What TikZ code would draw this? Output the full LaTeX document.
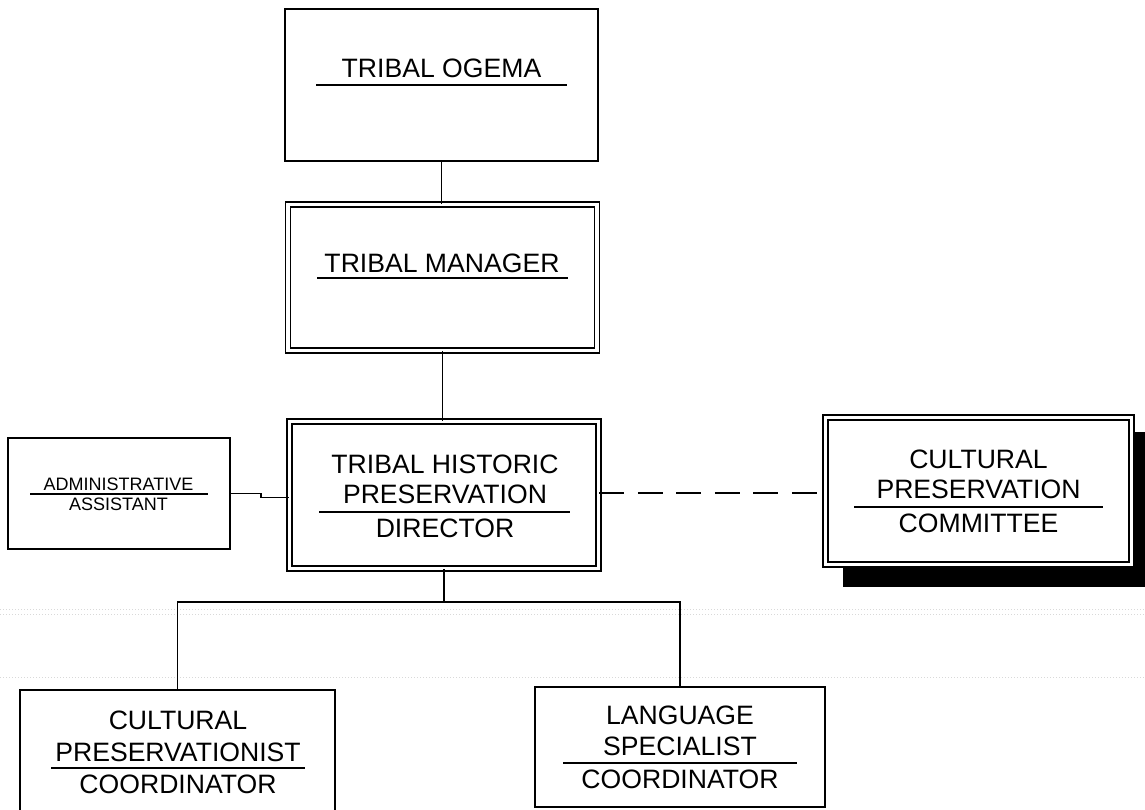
\documentclass[tikz,border=0pt]{standalone}
\usepackage{fontspec}
\setmainfont{Liberation Sans}
\usetikzlibrary{calc}
\begin{document}
\begin{tikzpicture}[x=1pt,y=-1pt,
  box/.style={draw, line width=1.8pt, fill=white, inner sep=0pt},
  dblbox/.style={draw, line width=1.6pt, double=white, double distance=3.2pt, fill=white, inner sep=0pt},
  lbl/.style={font=\fontsize{26.6}{30}\selectfont, anchor=base, inner sep=0pt},
  smalllbl/.style={font=\fontsize{18}{20}\selectfont, anchor=base, inner sep=0pt},
  rulel/.style={line width=1.7pt},
  conn/.style={line width=1.7pt},
  scanline/.style={gray!30, line width=1pt, dotted},
]
\useasboundingbox (0,0) rectangle (1145,809);
% faint scan lines
\draw[scanline] (0,609) -- (1145,609);
\draw[scanline] (0,614) -- (1145,614);
\draw[scanline] (0,677) -- (1145,677);

% shadow of committee box
\fill[black] (843,432) rectangle (1160,587);

% boxes
\node[box, minimum width=313pt, minimum height=152pt] (ogema) at (441.5,85) {};
\node[dblbox, minimum width=309pt, minimum height=146pt] (manager) at (442.5,277.5) {};
\node[dblbox, minimum width=309pt, minimum height=147pt] (director) at (444,495) {};
\node[dblbox, minimum width=306pt, minimum height=147pt] (committee) at (978.5,491) {};
\node[box, minimum width=222pt, minimum height=111pt] (admin) at (119,493.5) {};
\node[box, minimum width=315pt, minimum height=140pt] (cp) at (177.5,760) {};
\node[box, minimum width=290pt, minimum height=120pt] (lang) at (680,747) {};

% texts
\node[lbl] (tOgema) at (441.5,77) {TRIBAL OGEMA};
\draw[rulel] (316,85) -- (567,85);

\node[lbl] (tManager) at (442,272) {TRIBAL MANAGER};
\draw[rulel] (317,278) -- (568,278);

\node[lbl] (tDir1) at (445,473) {TRIBAL HISTORIC};
\node[lbl] (tDir2) at (445,503) {PRESERVATION};
\draw[rulel] (319,512) -- (570,512);
\node[lbl] (tDir3) at (445,537) {DIRECTOR};

\node[smalllbl] (tAdm1) at (118.5,490) {ADMINISTRATIVE};
\draw[rulel] (30,494) -- (208,494);
\node[smalllbl] (tAdm2) at (118.5,510) {ASSISTANT};

\node[lbl] (tCom1) at (978.5,468) {CULTURAL};
\node[lbl] (tCom2) at (978.5,498) {PRESERVATION};
\draw[rulel] (854,507) -- (1103,507);
\node[lbl] (tCom3) at (978.5,532) {COMMITTEE};

\node[lbl] (tCp1) at (178,729) {CULTURAL};
\node[lbl] (tCp2) at (178,761) {PRESERVATIONIST};
\draw[rulel] (51,768) -- (305,768);
\node[lbl] (tCp3) at (178,793) {COORDINATOR};

\node[lbl] (tLang1) at (680,724) {LANGUAGE};
\node[lbl] (tLang2) at (680,755) {SPECIALIST};
\draw[rulel] (563,763) -- (797,763);
\node[lbl] (tLang3) at (680,788) {COORDINATOR};

% connectors
\draw[conn] (ogema.south) -- (ogema.south |- manager.north);
\draw[conn] (manager.south) -- (manager.south |- director.north);
\coordinate (hub) at ($(director.south)+(0,32.5)$);
\draw[conn] (director.south) -- (hub);
\draw[conn] (cp.north) |- (hub) -| (lang.north);
\coordinate (jog) at ($(admin.east)+(30,0)$);
\draw[conn] (admin.east) -- (jog) -- ([yshift=-2.5pt]jog |- director.west) -- ([yshift=-2.5pt]director.west);
\draw[conn, dash pattern=on 25pt off 13.5pt] ([yshift=2pt]director.east) -- ([yshift=2pt]director.east -| committee.west);
\end{tikzpicture}
\end{document}
